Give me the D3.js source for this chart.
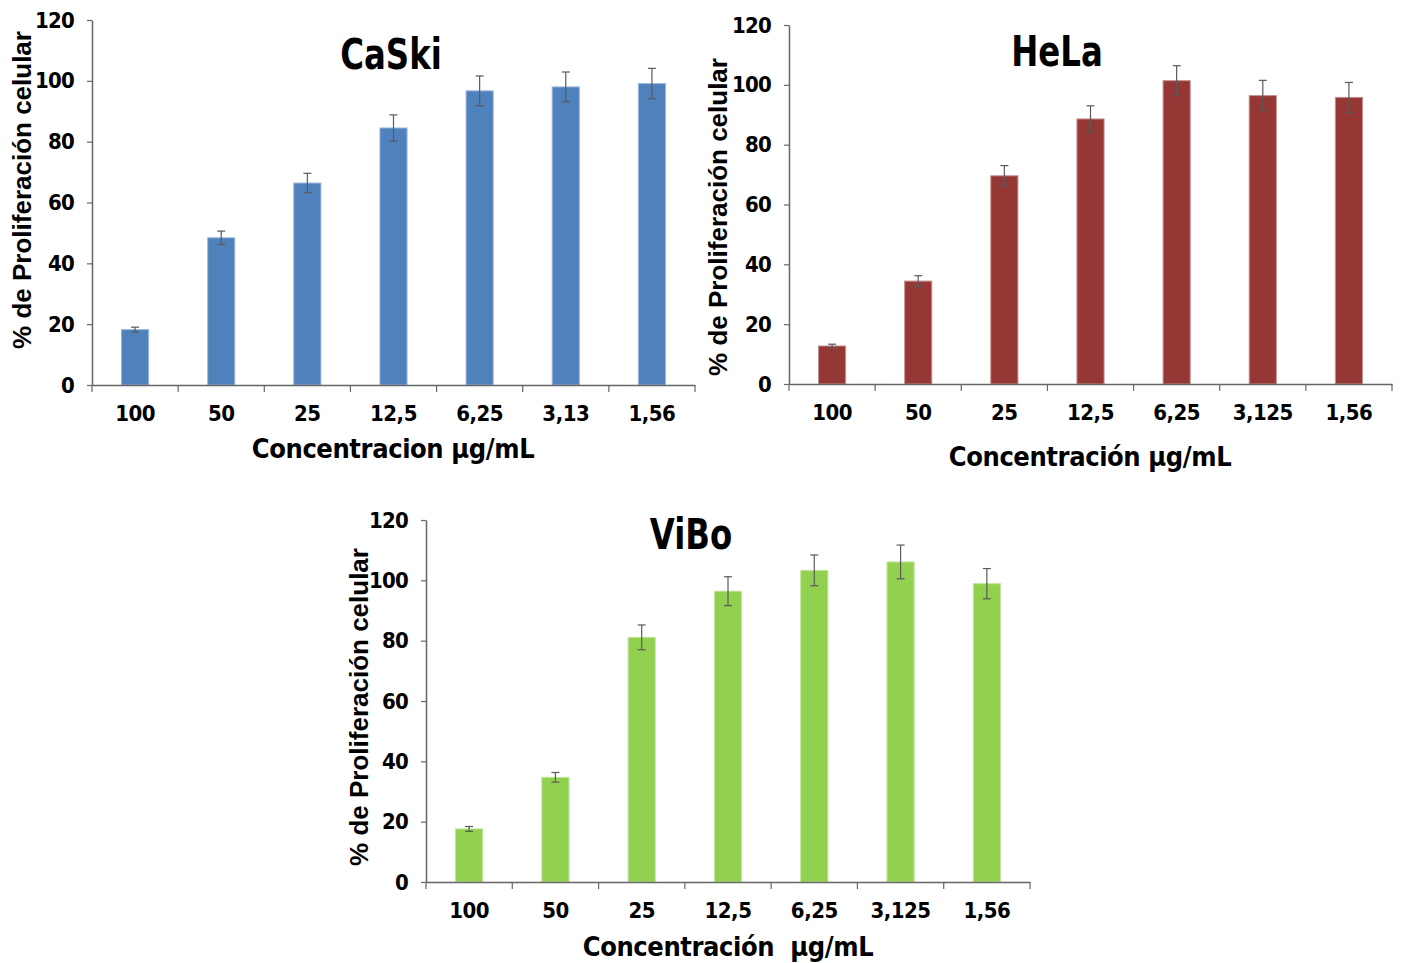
<!DOCTYPE html>
<html><head><meta charset="utf-8">
<script src="https://cdn.jsdelivr.net/npm/d3@7"></script>
<style>
body{margin:0;background:#fff;}
svg{display:block;}
</style></head>
<body>
<script>
// ---- data ----
const catsCaSki = ["100","50","25","12,5","6,25","3,13","1,56"];
const catsOther = ["100","50","25","12,5","6,25","3,125","1,56"];
const valsCaSki = [18.2, 48.4, 66.4, 84.5, 96.7, 98.0, 99.1];
const errCaSki  = [0.8, 2.2, 3.2, 4.3, 4.9, 4.9, 5.0];
const valsHeLa  = [12.7, 34.4, 69.6, 88.6, 101.4, 96.4, 95.8];
const errHeLa   = [0.6, 1.8, 3.4, 4.4, 5.0, 5.1, 5.0];
const valsViBo  = [17.6, 34.7, 81.1, 96.4, 103.3, 106.1, 98.9];
const errViBo   = [0.8, 1.6, 4.1, 4.8, 5.1, 5.6, 5.0];
const yTicks = [0, 20, 40, 60, 80, 100, 120];

const W = 1401, H = 963;
const svg = d3.select("body").append("svg").attr("width", W).attr("height", H);

const narrow = "'Liberation Sans Narrow','Arial Narrow','DejaVu Sans Condensed',sans-serif";
const arial = "'Liberation Sans',Arial,sans-serif";

function panel(o) {
  const g = svg.append("g");
  const x = d3.scaleBand().domain(o.cats).range([o.x0, o.x1]).paddingInner(0.685).paddingOuter(0.3425);
  const y = d3.scaleLinear().domain([0, 120]).range([o.y0, o.y1]);
  const band = (o.x1 - o.x0) / o.cats.length;

  // bars
  g.selectAll("rect.bar").data(o.vals).join("rect")
    .attr("x", (d, i) => x(o.cats[i]))
    .attr("y", d => y(d))
    .attr("width", x.bandwidth())
    .attr("height", d => y(0) - y(d))
    .attr("fill", o.color)
    .attr("stroke", o.edge).attr("stroke-width", 1);

  // error bars
  const eg = g.append("g").attr("stroke", "#5a5a5a").attr("stroke-width", 1.2);
  o.vals.forEach((v, i) => {
    const cx = x(o.cats[i]) + x.bandwidth() / 2;
    const lo = y(v - o.errs[i]), hi = y(v + o.errs[i]);
    eg.append("line").attr("x1", cx).attr("x2", cx).attr("y1", lo).attr("y2", hi);
    eg.append("line").attr("x1", cx - 4).attr("x2", cx + 4).attr("y1", hi).attr("y2", hi);
    eg.append("line").attr("x1", cx - 4).attr("x2", cx + 4).attr("y1", lo).attr("y2", lo);
  });

  // y axis
  const ya = g.append("g").attr("transform", `translate(${o.x0},0)`)
    .call(d3.axisLeft(y).tickValues(yTicks).tickSize(5).tickSizeOuter(0).tickPadding(13));
  ya.select(".domain").attr("stroke", "#666").attr("stroke-width", 1.5);
  ya.selectAll(".tick line").attr("stroke", "#666").attr("stroke-width", 1.2);
  ya.selectAll(".tick text").attr("font-family", narrow).attr("font-weight", "bold")
    .attr("font-size", 22).attr("letter-spacing", -0.8).attr("fill", "#000");

  // x axis
  const xa = g.append("g").attr("transform", `translate(0,${o.y0})`)
    .call(d3.axisBottom(x).tickSize(0).tickSizeOuter(0).tickPadding(20));
  xa.select(".domain").attr("stroke", "#666").attr("stroke-width", 1.5);
  xa.selectAll(".tick text").attr("font-family", narrow).attr("font-weight", "bold")
    .attr("font-size", 22).attr("letter-spacing", -0.5).attr("fill", "#000");
  d3.range(o.cats.length + 1).forEach(i => {
    xa.append("line").attr("x1", o.x0 + i * band).attr("x2", o.x0 + i * band)
      .attr("y1", 0).attr("y2", 7).attr("stroke", "#666").attr("stroke-width", 1.2);
  });

  // titles
  g.append("text").attr("transform", `translate(${o.tx},${o.ty}) scale(0.9,1.05)`)
    .attr("text-anchor", "middle")
    .attr("font-family", narrow).attr("font-weight", "bold").attr("font-size", 40)
    .attr("fill", "#000").text(o.title);
  g.append("text").attr("x", o.xtx).attr("y", o.xty).attr("text-anchor", "middle")
    .attr("font-family", narrow).attr("font-weight", "bold").attr("font-size", 27)
    .attr("letter-spacing", -0.4)
    .attr("fill", "#000").attr("xml:space", "preserve").text(o.xtitle);
  g.append("text").attr("transform", `translate(${o.ytx},${o.yty}) rotate(-90)`)
    .attr("text-anchor", "middle")
    .attr("font-family", arial).attr("font-weight", "bold").attr("font-size", 26)
    .attr("fill", "#000").text("% de Proliferación celular");
}

panel({cats: catsCaSki, vals: valsCaSki, errs: errCaSki, color: "#4F81BD", edge: "#9bb7dc",
  x0: 92, x1: 695, y0: 385, y1: 20, title: "CaSki", tx: 391, ty: 69,
  xtitle: "Concentracion µg/mL", xtx: 393, xty: 458, ytx: 31, yty: 190});
panel({cats: catsOther, vals: valsHeLa, errs: errHeLa, color: "#953735", edge: "#c49190",
  x0: 789, x1: 1392, y0: 384, y1: 25, title: "HeLa", tx: 1057, ty: 66,
  xtitle: "Concentración µg/mL", xtx: 1090, xty: 466, ytx: 727, yty: 217});
panel({cats: catsOther, vals: valsViBo, errs: errViBo, color: "#92D050", edge: "#c2e69c",
  x0: 426, x1: 1030, y0: 882, y1: 520, title: "ViBo", tx: 691, ty: 549,
  xtitle: "Concentración  µg/mL", xtx: 728, xty: 956, ytx: 368, yty: 707});
</script>
</body></html>
